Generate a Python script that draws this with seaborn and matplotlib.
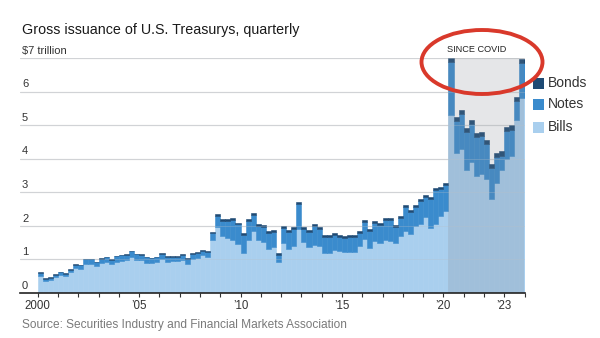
import matplotlib
matplotlib.use("Agg")
import matplotlib.pyplot as plt
import seaborn as sns
import pandas as pd
from matplotlib.patches import Ellipse, Rectangle
from matplotlib.transforms import blended_transform_factory

# ---------------- data (trillions of dollars, quarterly 2000 Q1 .. 2023 Q4) ----------------
years = list(range(2000, 2024))
quarters = [f"{y} Q{q}" for y in years for q in (1, 2, 3, 4)]

bills = [0.52, 0.37, 0.40, 0.48, 0.55, 0.51, 0.62, 0.74,
         0.72, 0.86, 0.87, 0.81, 0.89, 0.92, 0.86, 0.93,
         0.96, 0.98, 1.08, 0.99, 0.98, 0.90, 0.90, 0.92,
         1.00, 0.92, 0.95, 0.95, 0.98, 0.87, 1.00, 1.05,
         1.12, 1.08, 1.58, 1.97, 1.69, 1.64, 1.59, 1.47,
         1.19, 1.59, 1.84, 1.57, 1.51, 1.31, 1.37, 0.91,
         1.49, 1.32, 1.41, 1.91, 1.51, 1.37, 1.44, 1.41,
         1.19, 1.19, 1.27, 1.24, 1.21, 1.22, 1.22, 1.39,
         1.60, 1.35, 1.55, 1.50, 1.58, 1.55, 1.50, 1.70,
         1.85, 1.75, 2.00, 2.05, 2.25, 1.95, 2.05, 2.30,
         2.45, 5.30, 4.18, 4.29, 3.65, 3.90, 3.49, 3.54,
         3.40, 2.80, 3.28, 3.66, 3.98, 4.08, 5.14, 5.80]

notes = [0.08, 0.05, 0.05, 0.06, 0.07, 0.06, 0.07, 0.10,
         0.11, 0.14, 0.13, 0.11, 0.13, 0.15, 0.13, 0.16,
         0.16, 0.16, 0.17, 0.17, 0.16, 0.16, 0.14, 0.15,
         0.16, 0.14, 0.13, 0.13, 0.15, 0.14, 0.16, 0.13,
         0.14, 0.13, 0.20, 0.33, 0.46, 0.51, 0.59, 0.58,
         0.54, 0.54, 0.49, 0.44, 0.47, 0.49, 0.46, 0.22,
         0.46, 0.51, 0.50, 0.74, 0.40, 0.44, 0.57, 0.50,
         0.49, 0.47, 0.46, 0.44, 0.43, 0.44, 0.46, 0.39,
         0.51, 0.51, 0.53, 0.53, 0.58, 0.61, 0.48, 0.53,
         0.70, 0.66, 0.56, 0.68, 0.61, 0.84, 1.01, 0.81,
         0.78, 1.58, 0.94, 1.04, 1.14, 1.13, 1.15, 1.13,
         1.03, 0.92, 0.77, 0.43, 0.84, 0.79, 0.58, 1.05]

bonds = ([0.02] * 8 + [0.01] * 16 + [0.03] * 10 + [0.04] * 6 + [0.06] * 41
         + [0.13] * 15)

series = ["Bonds", "Notes", "Bills"]
colors = {"Bonds": "#1e4a74", "Notes": "#3a8bcd", "Bills": "#a9cfee"}
tick_years = [2000, 2005, 2010, 2015, 2020, 2023]
tick_texts = ["2000", "\u201905", "\u201910", "\u201915", "\u201920", "\u201923"]
y_values = [0, 1, 2, 3, 4, 5, 6, 7]
y_texts = ["0", "1", "2", "3", "4", "5", "6", "$7 trillion"]

# ---------------- long table ----------------
rows = []
for i, q in enumerate(quarters):
    rows.append((i, q, "Bills", bills[i]))
    rows.append((i, q, "Notes", notes[i]))
    rows.append((i, q, "Bonds", bonds[i]))
df = pd.DataFrame(rows, columns=["pos", "quarter", "series", "value"])

# ---------------- figure ----------------
sns.set_theme(style="white")
plt.rcParams["font.family"] = ["Liberation Sans", "DejaVu Sans"]
narrow = ["Liberation Sans Narrow", "Liberation Sans", "DejaVu Sans"]

W, H = 600, 338
fig = plt.figure(figsize=(6.0, 3.38), dpi=100)
fig.patch.set_facecolor("white")
ax = fig.add_axes([20 / W, 45 / H, 504.5 / W, 235 / H])

sns.histplot(data=df, x="pos", weights="value", hue="series", hue_order=series,
             multiple="stack", discrete=True, shrink=1, palette=colors,
             alpha=1, linewidth=0, legend=False, ax=ax, zorder=2)
for p in ax.patches:
    p.set_edgecolor(p.get_facecolor())
    p.set_linewidth(0.4)

ax.set_xlim(-4, 95.5)
ax.set_ylim(0, 7)
ax.set_xlabel("")
ax.set_ylabel("")

# gridlines
for v in y_values[1:]:
    ax.axhline(v, color="#dcdcdc", lw=0.9, zorder=1)
    ax.axhline(v, color="#b8c0c8", lw=0.6, alpha=0.35, zorder=4)

# covid shading
ax.axvspan(80.5, 95.5, ymin=0, ymax=1, color="#7d838c", alpha=0.2, lw=0, zorder=3)

# spines
for s in ["top", "right", "left"]:
    ax.spines[s].set_visible(False)
ax.spines["bottom"].set_color("#222222")
ax.spines["bottom"].set_linewidth(1.2)
ax.spines["bottom"].set_zorder(5)

# y labels (above gridlines, left aligned)
ax.set_yticks([])
trans = blended_transform_factory(ax.transAxes, ax.transData)
for v, t in zip(y_values, y_texts):
    ax.text(0.004, v + 0.07, t, transform=trans, ha="left", va="bottom",
            fontsize=8, color="#333333", family=narrow)

# x ticks
ax.set_xticks([(y - 2000) * 4 - 0.5 for y in years] + [95.5], minor=True)
ax.set_xticks([(y - 2000) * 4 - 0.5 for y in tick_years])
ax.set_xticklabels(tick_texts, fontsize=8.3, color="#333333", family=narrow)
ax.tick_params(axis="x", which="both", direction="out", length=3, width=0.8,
               color="#333333", pad=2, bottom=True)

# title and source
fig.text(22 / W, 1 - 30 / H, "Gross issuance of U.S. Treasurys, quarterly",
         ha="left", va="center", fontsize=10.3, color="#1a1a1a")
fig.text(22 / W, 1 - 325 / H, "Source: Securities Industry and Financial Markets Association",
         ha="left", va="center", fontsize=8.6, color="#7a7a7a")

# SINCE COVID label and red circle
fig.text(477 / W, 1 - 50 / H, "SINCE COVID", ha="center", va="center", fontsize=6.6,
         color="#222222", family=narrow)
fig.add_artist(Ellipse((482 / W, 1 - 62 / H), 121 / W, 64 / H, transform=fig.transFigure,
                       fill=False, edgecolor="#d9392b", lw=2.8, zorder=10))

# legend
for name, yc in zip(series, [83, 104, 127]):
    fig.add_artist(Rectangle((533 / W, 1 - (yc + 5.5) / H), 11 / W, 11 / H,
                             transform=fig.transFigure, facecolor=colors[name],
                             edgecolor="none"))
    fig.text(548 / W, 1 - yc / H, name, ha="left", va="center", fontsize=10,
             color="#333333")

fig.savefig("out.png", dpi=100)
